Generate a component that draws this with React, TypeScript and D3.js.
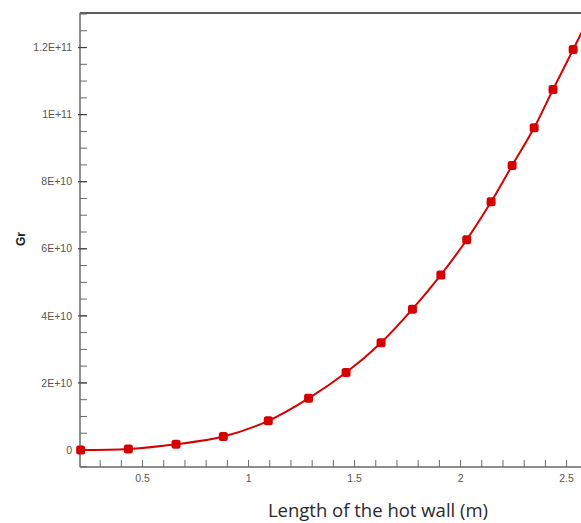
import React, { useEffect } from 'react';
import * as d3 from 'd3';

// Length of the hot wall (m) vs Grashof number
const wallLength = [0.208, 0.433, 0.658, 0.881, 1.093, 1.283, 1.46, 1.625, 1.773, 1.907, 2.029, 2.144, 2.243, 2.347, 2.436, 2.531, 2.626];
const grValues = [0, 0.3e9, 1.7e9, 4.0e9, 8.7e9, 15.4e9, 23.1e9, 32.0e9, 42.0e9, 52.2e9, 62.7e9, 74.0e9, 84.8e9, 96.1e9, 107.5e9, 119.4e9, 131.5e9];

const yTickValues = [0, 2e10, 4e10, 6e10, 8e10, 1e11, 1.2e11];
const yTickLabels = ['0', '2E+10', '4E+10', '6E+10', '8E+10', '1E+11', '1.2E+11'];
const xTickValues = [0.5, 1, 1.5, 2, 2.5];
const xTickLabels = ['0.5', '1', '1.5', '2', '2.5'];

const W = 581, H = 523;
const margin = { left: 80, top: 13, bottom: 56 };

export default function App() {
  useEffect(() => {
    document.body.style.margin = '0';
  }, []);

  const x = d3.scaleLinear().domain([0.205, 2.568]).range([margin.left, W]);
  const y = d3.scaleLinear().domain([-5.07e9, 1.303e11]).range([H - margin.bottom, margin.top]);

  const pts = wallLength.map((d, i) => ({ x: d, y: grValues[i] }));
  const line = d3.line<{ x: number; y: number }>()
    .x(d => x(d.x))
    .y(d => y(d.y))
    .curve(d3.curveCatmullRom);

  const yMinor = d3.range(-5e9, 1.31e11, 5e9);
  const xMinor = d3.range(3, 26).map(v => v / 10);

  const axisColor = '#6a6a6a';
  const red = '#d50000';

  return (
    <svg width={W} height={H} style={{ display: 'block', overflow: 'hidden', background: '#fff' }}>
      {/* frame */}
      <line x1={margin.left} x2={W + 10} y1={y.range()[1]} y2={y.range()[1]} stroke="#5e5e5e" strokeWidth={2} />
      <line x1={margin.left} x2={margin.left} y1={y.range()[1]} y2={y.range()[0]} stroke={axisColor} strokeWidth={1.5} />
      <line x1={margin.left} x2={W + 10} y1={y.range()[0]} y2={y.range()[0]} stroke={axisColor} strokeWidth={1.5} />

      {/* y ticks */}
      {yMinor.map((v, i) => (
        <line key={'ym' + i} x1={margin.left} x2={margin.left + 7} y1={y(v)} y2={y(v)} stroke={axisColor} strokeWidth={1} />
      ))}
      {yTickValues.map((v, i) => (
        <g key={'yt' + i}>
          <line x1={margin.left - 2} x2={margin.left + 7} y1={y(v)} y2={y(v)} stroke="#444" strokeWidth={1.2} />
          <text x={72} y={y(v)} dy="0.35em" textAnchor="end" fontFamily="Liberation Sans, Arial, sans-serif" fontSize={10.5} fill="#555">
            {yTickLabels[i]}
          </text>
        </g>
      ))}

      {/* x ticks */}
      {xMinor.map((v, i) => (
        <line key={'xm' + i} x1={x(v)} x2={x(v)} y1={y.range()[0]} y2={y.range()[0] - 7} stroke={axisColor} strokeWidth={1} />
      ))}
      {xTickValues.map((v, i) => (
        <text key={'xt' + i} x={x(v)} y={482} textAnchor="middle" fontFamily="Liberation Sans, Arial, sans-serif" fontSize={10.5} fill="#555">
          {xTickLabels[i]}
        </text>
      ))}

      {/* axis titles */}
      <text x={378} y={517} textAnchor="middle" fontFamily="Open Sans, Noto Sans, sans-serif" fontSize={18.5} fill="#2a2a2a">
        Length of the hot wall (m)
      </text>
      <text transform="translate(25,239) rotate(-90)" textAnchor="middle" fontFamily="Liberation Sans, Arial, sans-serif" fontSize={12} fontWeight="bold" fill="#222">
        Gr
      </text>

      {/* series */}
      <path d={line(pts) || ''} fill="none" stroke={red} strokeWidth={2} />
      {pts.map((d, i) => (
        <rect key={'p' + i} x={x(d.x) - 4.5} y={y(d.y) - 4.5} width={9} height={9} rx={2.5} fill={red} />
      ))}
    </svg>
  );
}
